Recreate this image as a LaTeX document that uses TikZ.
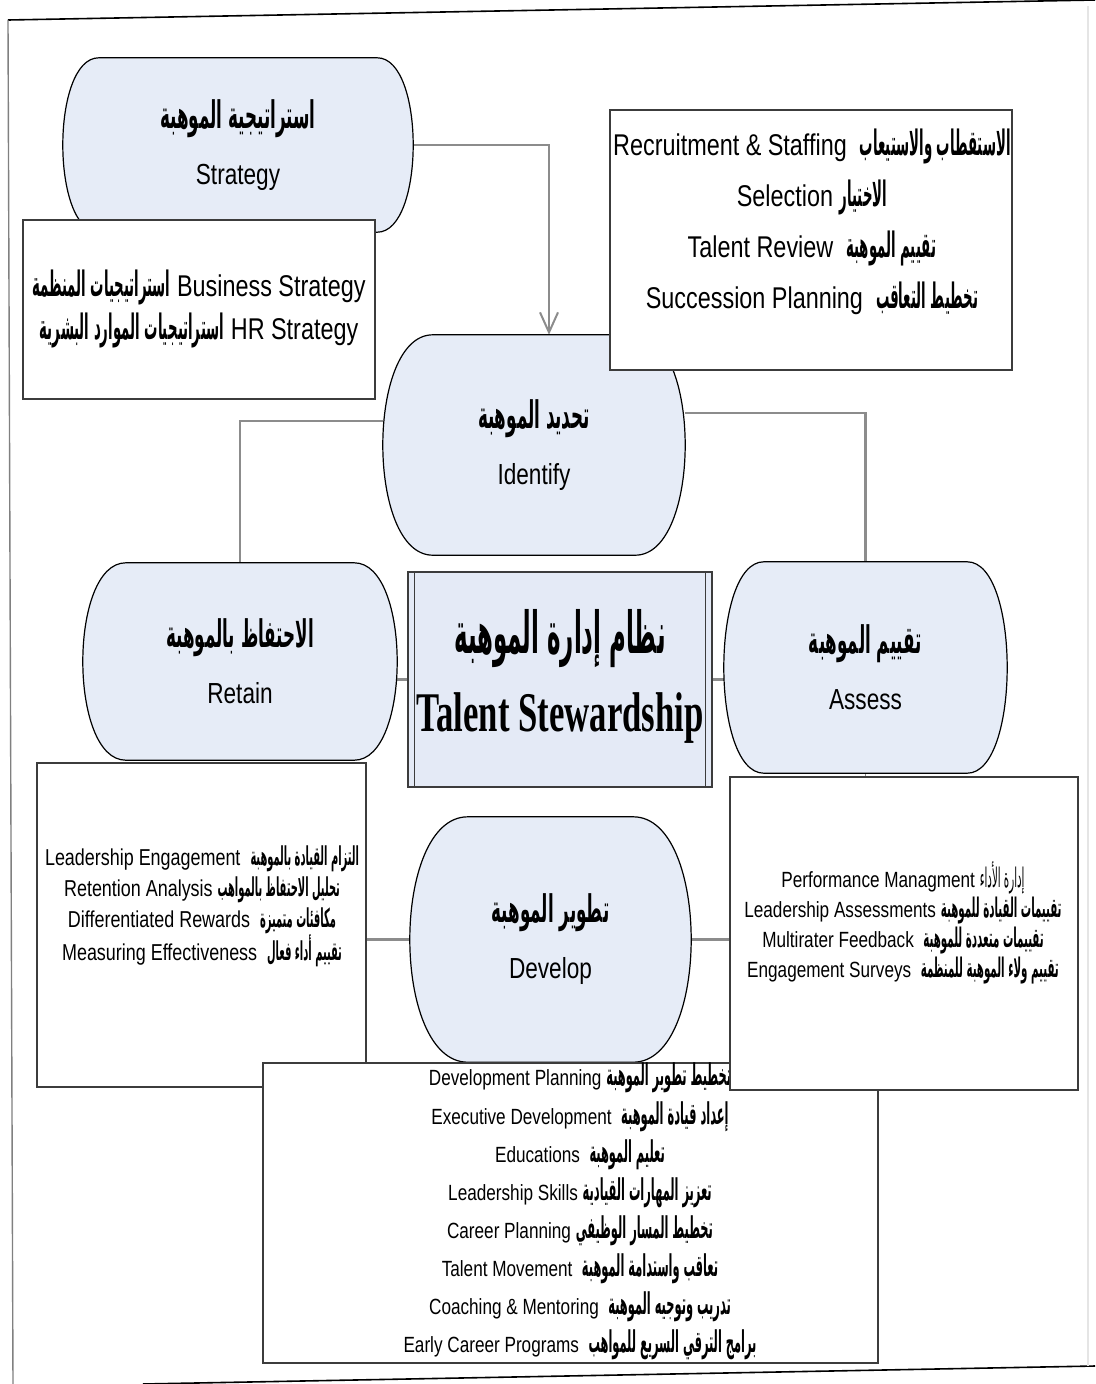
\documentclass[tikz,border=0pt]{standalone}
\usepackage{fontspec}
\setmainfont[FakeStretch=0.78]{Liberation Sans}
\newfontfamily\arabicfont[Script=Arabic,FakeStretch=0.38]{DejaVu Sans}
\newfontfamily\arabichead[Script=Arabic,FakeStretch=0.44]{DejaVu Sans}
\newfontfamily\arabictitle[Script=Arabic,FakeStretch=0.395]{DejaVu Sans}
\newfontfamily\titleserif[FakeStretch=0.62]{Liberation Serif}
\TeXXeTstate=1
\usetikzlibrary{calc,arrows.meta}

\pgfdeclarelayer{frame}
\pgfdeclarelayer{shape}
\pgfsetlayers{frame,shape,main}

\definecolor{capfill}{RGB}{230,236,247}
\definecolor{corefill}{RGB}{228,234,246}
\definecolor{boxline}{RGB}{60,60,60}
\definecolor{connGray}{RGB}{140,140,140}

% Arabic runs: bold body, regular body, stage headings
\newcommand\arb[1]{{\arabicfont\bfseries\beginR #1\endR}}
\newcommand\arr[1]{{\arabicfont\beginR #1\endR}}
\newcommand\arh[1]{{\arabichead\bfseries\fontsize{38}{56}\selectfont\beginR #1\endR}}
\newcommand\fsz[2]{\fontsize{#1}{#2}\selectfont}

% barrel outline (flat top and bottom, elliptic sides) around a named node
\newcommand\barrelpath[2]{%
  \begin{pgfonlayer}{shape}
  \path[barrelfill] ($(#1.north west)+(#2,0)$) -- ($(#1.north east)+(-#2,0)$)
    .. controls ($(#1.north east)+(#2/3,0)$) and ($(#1.south east)+(#2/3,0)$) .. ($(#1.south east)+(-#2,0)$)
    -- ($(#1.south west)+(#2,0)$)
    .. controls ($(#1.south west)+(-#2/3,0)$) and ($(#1.north west)+(-#2/3,0)$) .. cycle;
  \end{pgfonlayer}}

\tikzset{
  barrel/.style={rectangle, inner sep=0pt, align=center, font=\fsz{29}{56}},
  barrelfill/.style={fill=capfill, draw=black, line width=1.2pt},
  infobox/.style={rectangle, draw=boxline, line width=1.5pt, fill=white, inner sep=0pt},
  infotext/.style={align=center, inner sep=0pt},
  conn/.style={draw=connGray, line width=2.6pt},
  pageedge/.style={draw=black, line width=1.6pt},
}

\begin{document}
\begin{tikzpicture}[x=1pt,y=-1pt]
\useasboundingbox (0,0) rectangle (1095,1384);

% ---- stage shapes ----
\node[barrel, minimum width=350pt, minimum height=174pt] (strategy) at (238,145)
  {\arh{استراتيجية الموهبة}\\Strategy};
\barrelpath{strategy}{36}

\node[barrel, minimum width=302pt, minimum height=220pt] (ident) at (534,445)
  {\arh{تحديد الموهبة}\\Identify};
\barrelpath{ident}{50}

\node[barrel, minimum width=314pt, minimum height=197pt] (retain) at (240,661.5)
  {\arh{الاحتفاظ بالموهبة}\\Retain};
\barrelpath{retain}{43}

\node[barrel, minimum width=283pt, minimum height=211pt] (assess) at (865.5,667.5)
  {\arh{تقييم الموهبة}\\Assess};
\barrelpath{assess}{40}

\node[barrel, minimum width=281pt, minimum height=245pt] (develop) at (550.5,939.5)
  {\arh{تطوير الموهبة}\\Develop};
\barrelpath{develop}{58}

% ---- detail boxes ----
\node[infobox, minimum width=352pt, minimum height=179pt] (stratbox) at (199,309.5) {};
\node[infotext, font=\fsz{30}{43}] (strattext) at (199,308.5)
  {{\fsz{35}{43}\arb{استراتيجيات المنظمة}} Business Strategy\\
   {\fsz{35}{43}\arb{استراتيجيات الموارد البشرية}} HR Strategy};

\node[infobox, minimum width=402pt, minimum height=260pt] (recbox) at (811,240) {};
\node[infotext, font=\fsz{30}{51}] (rectext) at (812,221.5)
  {Recruitment \& Staffing\ \ {\fsz{35}{51}\arb{الاستقطاب والاستيعاب}}\\
   Selection {\fsz{35}{51}\arb{الاختيار}}\\
   Talent Review\ \ {\fsz{35}{51}\arb{تقييم الموهبة}}\\
   Succession Planning\ \ {\fsz{35}{51}\arb{تخطيط التعاقب}}};

\node[infobox, minimum width=329pt, minimum height=324pt] (leftbox) at (201.5,925) {};
\node[infotext, font=\fsz{23}{31}] (lefttext) at (202,906)
  {Leadership Engagement\ \ {\fsz{26}{31}\arb{التزام القيادة بالموهبة}}\\
   Retention Analysis {\fsz{26}{31}\arb{تحليل الاحتفاظ بالمواهب}}\\
   Differentiated Rewards\ \ {\fsz{26}{31}\arb{مكافئات متميزة}}\\
   Measuring Effectiveness\ \ {\fsz{26}{31}\arb{تقييم أداء فعال}}};

\node[infobox, minimum width=615pt, minimum height=300pt] (devbox) at (570.5,1213) {};
\node[infotext, font=\fsz{22}{38.1}] (devtext) at (580,1211.5)
  {Development Planning {\fsz{30}{38}\arb{تخطيط تطوير الموهبة}}\\
   Executive Development\ \ {\fsz{30}{38}\arb{إعداد قيادة الموهبة}}\\
   Educations\ \ {\fsz{30}{38}\arb{تعليم الموهبة}}\\
   Leadership Skills {\fsz{30}{38}\arb{تعزيز المهارات القيادية}}\\
   Career Planning {\fsz{30}{38}\arb{تخطيط المسار الوظيفي}}\\
   Talent Movement\ \ {\fsz{30}{38}\arb{تعاقب واستدامة الموهبة}}\\
   Coaching \& Mentoring\ \ {\fsz{30}{38}\arb{تدريب وتوجيه الموهبة}}\\
   Early Career Programs\ \ {\fsz{30}{38}\arb{برامج الترقي السريع للمواهب}}};

\node[infobox, minimum width=348pt, minimum height=313pt] (rightbox) at (904,933.5) {};
\node[infotext, font=\fsz{22}{30}] (righttext) at (903,923)
  {Performance Managment {\fsz{27}{30}\arr{إدارة الأداء}}\\
   Leadership Assessments {\fsz{27}{30}\arb{تقييمات القيادة للموهبة}}\\
   Multirater Feedback\ \ {\fsz{27}{30}\arb{تقييمات متعددة للموهبة}}\\
   Engagement Surveys\ \ {\fsz{27}{30}\arb{تقييم ولاء الموهبة للمنظمة}}};

% ---- central system box ----
\node[rectangle, draw=boxline, line width=1.4pt, fill=corefill,
      minimum width=304pt, minimum height=215pt, inner sep=0pt] (core) at (560,679.5) {};
\draw[boxline, line width=1.2pt] ($(core.north west)+(7,0)$) -- ($(core.south west)+(7,0)$);
\draw[boxline, line width=1.2pt] ($(core.north east)+(-7,0)$) -- ($(core.south east)+(-7,0)$);
\node[infotext, font=\fsz{56}{78}] (coretext) at (560,676)
  {{\arabictitle\bfseries\fsz{58}{78}\beginR نظام إدارة الموهبة\endR}\\
   {\titleserif\bfseries Talent Stewardship}};

% ---- page edge and connectors ----
\begin{pgfonlayer}{frame}
  \draw[pageedge] (8,20) -- (1095,0);
  \draw[draw=gray, line width=1.4pt] (8,20) -- (13,1384);
  \draw[pageedge] (143,1384) -- (1095,1366);
  \draw[draw=gray!20, line width=1.5pt] (1088,6) -- (1088,1366);

  \draw[conn, -{Straight Barb[length=20pt,width=18pt,line width=2pt]}]
    (strategy.east) -| ($(ident.north)+(15,0)$);
  \draw[conn] (ident.171) -| (retain.north);
  \draw[conn] (ident.12) -| (assess.north);
  \draw[conn] (core.west) -- (core.west -| retain.east);
  \draw[conn] (core.east) -- (core.east -| assess.west);
  \draw[conn] (develop.west) -- (develop.west -| leftbox.east);
  \draw[conn] (develop.east) -- (develop.east -| rightbox.west);
  \draw[conn, line width=1.5pt] (assess.south) -- (assess.south |- rightbox.north);
\end{pgfonlayer}
\end{tikzpicture}
\end{document}
